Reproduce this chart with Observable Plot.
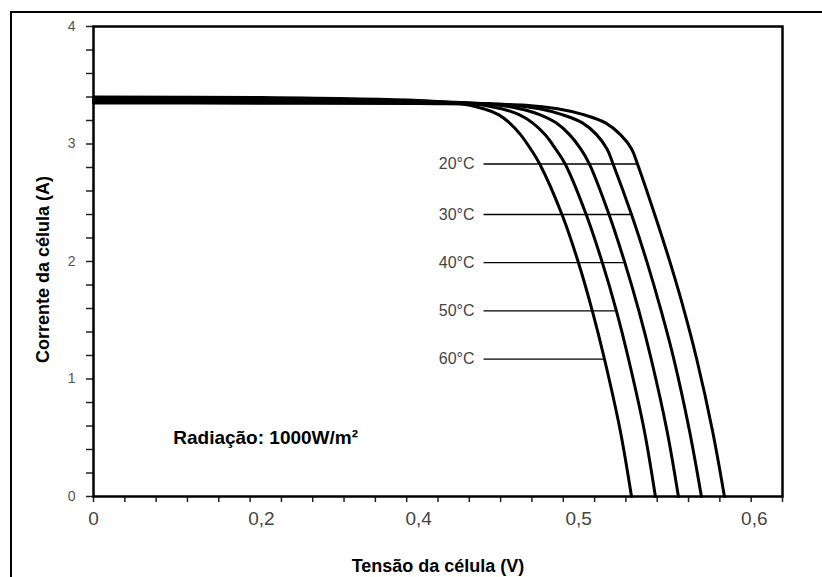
<!DOCTYPE html>
<html><head><meta charset="utf-8">
<script src="https://cdn.jsdelivr.net/npm/d3@7"></script>
<script src="https://cdn.jsdelivr.net/npm/@observablehq/plot@0.6"></script>
<style>
html,body{margin:0;padding:0;background:#fff;overflow:hidden;width:822px;height:577px}
#border{position:absolute;left:10px;top:11px;width:900px;height:700px;border:2px solid #000;}
#chart{position:absolute;left:0;top:0}
</style></head><body><div id="border"></div><div id="chart"></div>
<script>
// Series: temperature labels and (voltage V, current A)
const temperatures = ["20°C", "30°C", "40°C", "50°C", "60°C"];
const voltage20 = [0, 0.2, 0.4, 0.4669, 0.4868, 0.5028, 0.5153, 0.5238, 0.5301, 0.5335, 0.5433, 0.5521, 0.5601, 0.5672, 0.5762, 0.5830];
const current20 = [3.35, 3.347, 3.345, 3.33, 3.30, 3.25, 3.18, 3.08, 2.96, 2.83, 2.40, 1.99, 1.58, 1.17, 0.56, 0];
const voltage30 = [0, 0.2, 0.4, 0.4560, 0.4756, 0.4897, 0.5022, 0.5102, 0.5161, 0.5196, 0.5301, 0.5390, 0.5470, 0.5542, 0.5631, 0.5699];
const current30 = [3.36, 3.355, 3.352, 3.335, 3.30, 3.25, 3.18, 3.08, 2.96, 2.83, 2.40, 1.99, 1.58, 1.17, 0.56, 0];
const voltage40 = [0, 0.2, 0.4, 0.4444, 0.4631, 0.4756, 0.4859, 0.4943, 0.5011, 0.5061, 0.5173, 0.5263, 0.5343, 0.5413, 0.5503, 0.5568];
const current40 = [3.37, 3.365, 3.36, 3.34, 3.30, 3.25, 3.18, 3.08, 2.96, 2.83, 2.40, 1.99, 1.58, 1.17, 0.56, 0];
const voltage50 = [0, 0.2, 0.4, 0.4331, 0.4518, 0.4628, 0.4712, 0.4790, 0.4855, 0.4916, 0.5043, 0.5135, 0.5215, 0.5284, 0.5374, 0.5437];
const current50 = [3.385, 3.38, 3.365, 3.345, 3.30, 3.25, 3.18, 3.08, 2.96, 2.83, 2.40, 1.99, 1.58, 1.17, 0.56, 0];
const voltage60 = [0, 0.2, 0.4, 0.4219, 0.4406, 0.4499, 0.4568, 0.4637, 0.4699, 0.4757, 0.4896, 0.4999, 0.5078, 0.5147, 0.5237, 0.5301];
const current60 = [3.40, 3.395, 3.37, 3.35, 3.30, 3.25, 3.18, 3.08, 2.96, 2.83, 2.40, 1.99, 1.58, 1.17, 0.56, 0];

// Axis as printed in the original (labels not evenly spaced in value)
const xTickValues = [0, 0.2, 0.4, 0.5, 0.6];
const xTickLabels = ["0", "0,2", "0,4", "0,5", "0,6"];
const xTickSlots = [0, 5.36, 10.38, 15.49, 21.1]; // label position counted in minor-tick steps
const xMinorSlots = d3.range(0, 23);
const yTickValues = [0, 1, 2, 3, 4];
const yMinorTicks = d3.range(0, 21).map(k => k / 5);

// Annotations
const labelCurrents = [2.83, 2.40, 1.99, 1.58, 1.17];
const labelLeaderStart = 0.4406;
const radiationLabel = "Radiação: 1000W/m²";
const radiationVoltage = 0.095;
const radiationCurrent = 0.50;
const xTitle = "Tensão da célula (V)";
const yTitle = "Corrente da célula (A)";

const series = [[voltage20, current20], [voltage30, current30], [voltage40, current40], [voltage50, current50], [voltage60, current60]];
const toSlot = d3.scaleLinear().domain(xTickValues).range(xTickSlots);

const rows = temperatures.flatMap((t, k) => series[k][0].map((v, j) => ({temp: t, slot: toSlot(v), current: series[k][1][j]})));
const leaders = temperatures.map((t, k) => {
  const [V, I] = series[k];
  const j = I.indexOf(labelCurrents[k]);
  return {temp: t, x1: toSlot(labelLeaderStart), x2: toSlot(V[j]), y: labelCurrents[k]};
});

const sans = "'Liberation Sans', Arial, sans-serif";

const chart = Plot.plot({
  width: 822, height: 577,
  marginLeft: 93, marginRight: 40, marginTop: 26, marginBottom: 81,
  x: {domain: [0, 22]},
  y: {domain: [0, 4]},
  style: {background: "transparent", fontFamily: sans},
  marks: [
    Plot.axisX({ticks: xMinorSlots, tickSize: 6, tickFormat: () => "", stroke: "#222", strokeWidth: 1.5, label: null}),
    Plot.axisX({ticks: xTickSlots, tickSize: 0, tickPadding: 15, tickFormat: d => xTickLabels[xTickSlots.indexOf(d)], label: null, fontSize: 19, fontFamily: sans, fill: "#444"}),
    Plot.axisY({ticks: yMinorTicks, tickSize: 7, tickFormat: () => "", stroke: "#222", strokeWidth: 1.5, label: null}),
    Plot.axisY({ticks: yTickValues, tickSize: 0, tickPadding: 18, tickFormat: d => String(d), label: null, fontSize: 14, fontFamily: sans, fill: "#555"}),
    Plot.line(rows, {x: "slot", y: "current", z: "temp", stroke: "#000", strokeWidth: 3, curve: "catmull-rom"}),
    Plot.link(leaders, {x1: "x1", x2: "x2", y1: "y", y2: "y", stroke: "#000", strokeWidth: 1.3}),
    Plot.text(leaders, {x: "x1", y: "y", text: "temp", textAnchor: "end", dx: -9, fontSize: 16, fontFamily: sans, fill: "#444"}),
    Plot.text([{slot: toSlot(radiationVoltage), current: radiationCurrent, text: radiationLabel}], {x: "slot", y: "current", text: "text", textAnchor: "start", fontSize: 19, fontWeight: "bold", fontFamily: sans, fill: "#000"}),
    Plot.frame({stroke: "#000", strokeWidth: 2.5}),
    Plot.text([xTitle], {frameAnchor: "bottom", textAnchor: "middle", dy: 75, text: d => d, fontSize: 18, fontWeight: "bold", fontFamily: sans, fill: "#000"}),
    Plot.text([yTitle], {frameAnchor: "left", textAnchor: "middle", lineAnchor: "middle", dx: -50, dy: 8, rotate: -90, text: d => d, fontSize: 18, fontWeight: "bold", fontFamily: sans, fill: "#000"})
  ]
});
document.getElementById("chart").appendChild(chart);
</script>
</body></html>
